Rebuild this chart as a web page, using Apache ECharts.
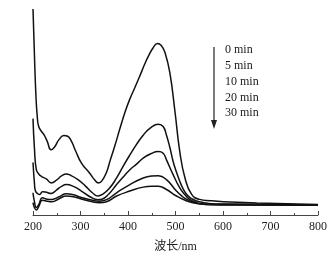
<!DOCTYPE html>
<html>
<head>
<meta charset="utf-8">
<script src="https://cdn.jsdelivr.net/npm/echarts@6/dist/echarts.min.js"></script>
<style>
  html, body { margin: 0; padding: 0; background: #fff; }
  #chart { width: 336px; height: 258px; }
</style>
</head>
<body>
<div id="chart"></div>
<script>
// Absorption spectra at increasing irradiation time
const seriesNames = ['0 min', '5 min', '10 min', '20 min', '30 min'];
const xTicks = [200, 300, 400, 500, 600, 700, 800];

const min0 = [
  [200, 2.085], [203, 1.625], [206, 1.225], [209, 0.995], [212, 0.895], [218, 0.845],
  [224, 0.805], [230, 0.745], [238, 0.66], [245, 0.685], [255, 0.765], [265, 0.805],
  [272, 0.80], [280, 0.755], [290, 0.645], [302, 0.525], [319, 0.425], [330, 0.355],
  [338, 0.325], [345, 0.345], [355, 0.435], [362, 0.545], [372, 0.695], [383, 0.875],
  [394, 1.045], [404, 1.175], [415, 1.295], [425, 1.408], [435, 1.525], [443, 1.608],
  [453, 1.692], [462, 1.735], [470, 1.715], [478, 1.642], [488, 1.442], [499, 1.042],
  [509, 0.642], [520, 0.375], [534, 0.208], [551, 0.158], [573, 0.145], [601, 0.135],
  [671, 0.122], [800, 0.105]
];
const min5 = [
  [200, 0.975], [203, 0.675], [207, 0.458], [212, 0.415], [217.5, 0.392], [228, 0.365],
  [238.5, 0.325], [250, 0.355], [260, 0.395], [270, 0.415], [280, 0.40], [294.7, 0.358],
  [310, 0.295], [325, 0.225], [337, 0.192], [345, 0.205], [360, 0.265], [376, 0.375],
  [390, 0.495], [404, 0.608], [418, 0.715], [432, 0.808], [448, 0.885], [464, 0.918],
  [474, 0.895], [481, 0.808], [488, 0.685], [495, 0.542], [502, 0.435], [509, 0.342],
  [516, 0.265], [523.6, 0.208], [534, 0.165], [544.6, 0.142], [560, 0.125], [575, 0.115],
  [600, 0.112], [700, 0.107], [800, 0.102]
];
const min10 = [
  [200, 0.532], [203, 0.325], [205, 0.245], [210, 0.215], [214, 0.208], [220, 0.235],
  [228, 0.23], [238, 0.218], [250, 0.255], [260, 0.29], [270, 0.308], [285, 0.29],
  [302, 0.242], [320, 0.185], [337, 0.155], [345, 0.16], [360, 0.215], [376, 0.308],
  [390, 0.385], [404, 0.458], [418, 0.515], [432, 0.575], [448, 0.62], [464, 0.642],
  [474, 0.625], [481, 0.558], [495, 0.408], [509, 0.275], [520, 0.205], [530, 0.158],
  [545, 0.125], [560, 0.11], [600, 0.107], [700, 0.105], [800, 0.102]
];
const min20 = [
  [200, 0.225], [203, 0.135], [207, 0.075], [212, 0.105], [220, 0.175], [230, 0.16],
  [240, 0.158], [255, 0.185], [270, 0.215], [285, 0.205], [300, 0.18], [320, 0.155],
  [340, 0.14], [355, 0.155], [376, 0.225], [404, 0.308], [432, 0.375], [450, 0.395],
  [464, 0.398], [481, 0.358], [502, 0.242], [515, 0.185], [524, 0.158], [540, 0.125],
  [560, 0.11], [600, 0.105], [800, 0.10]
];
const min30 = [
  [200, 0.125], [203, 0.075], [207, 0.05], [212, 0.085], [220, 0.148], [230, 0.14],
  [240, 0.135], [255, 0.165], [270, 0.192], [285, 0.185], [300, 0.165], [320, 0.14],
  [340, 0.125], [355, 0.135], [376, 0.192], [404, 0.242], [432, 0.282], [450, 0.29],
  [464, 0.29], [481, 0.258], [502, 0.192], [524, 0.142], [545, 0.115], [570, 0.105],
  [600, 0.102], [800, 0.099]
];
const allSeries = [min0, min5, min10, min20, min30];

const SERIF = '"Liberation Serif", "DejaVu Serif", "Noto Sans CJK SC", serif';

const chart = echarts.init(document.getElementById('chart'), null, { renderer: 'canvas' });

// legend is a plain list of times with a downward arrow beside it
const legendTexts = seriesNames.map((n, i) => ({
  type: 'text',
  left: 225,
  top: 44 + i * 15.8,
  style: { text: n, font: '12px ' + SERIF, fill: '#1a1a1a' }
}));

chart.setOption({
  animation: false,
  grid: { left: 33, right: 18, top: 5, bottom: 40 },
  xAxis: {
    type: 'value',
    min: 200,
    max: 800,
    interval: 100,
    name: '波长/nm',
    nameLocation: 'middle',
    nameGap: 26,
    nameTextStyle: { fontFamily: SERIF, fontSize: 12, color: '#222' },
    axisLine: { lineStyle: { color: '#444', width: 1 } },
    axisTick: { inside: true, length: 4, lineStyle: { color: '#444' } },
    minorTick: { show: true, splitNumber: 2, length: 2, lineStyle: { color: '#444' } },
    splitLine: { show: false },
    axisLabel: {
      margin: 6,
      fontFamily: SERIF,
      fontSize: 12,
      color: '#222',
      formatter: v => xTicks.includes(v) ? String(v) : ''
    }
  },
  yAxis: {
    type: 'value',
    min: 0,
    max: 2.125,
    show: false
  },
  series: allSeries.map((d, i) => ({
    name: seriesNames[i],
    type: 'line',
    data: d,
    symbol: 'none',
    smooth: 0.5,
    lineStyle: { color: '#111', width: 1.5 }
  })),
  graphic: [
    {
      type: 'line',
      shape: { x1: 214, y1: 47, x2: 214, y2: 122 },
      style: { stroke: '#222', lineWidth: 1.2 }
    },
    {
      type: 'polygon',
      shape: { points: [[211, 120], [217, 120], [214, 129]] },
      style: { fill: '#222' }
    },
    ...legendTexts
  ]
});
</script>
</body>
</html>
